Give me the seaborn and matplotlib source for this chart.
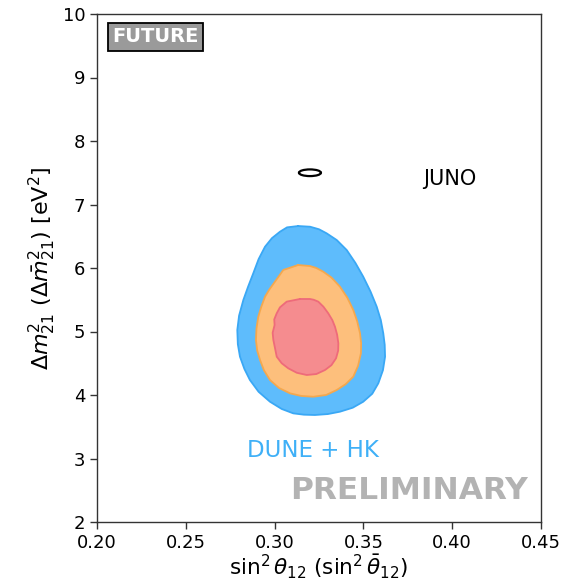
import numpy as np
import pandas as pd
import matplotlib
matplotlib.use("Agg")
import matplotlib.pyplot as plt
from matplotlib.patches import Ellipse
import seaborn as sns

# ---- data (sin^2 theta12, Delta m^2_21 [1e-5 eV^2]) ----
blue_x = [0.3133, 0.3070, 0.3030, 0.2985, 0.2946, 0.2910, 0.2880, 0.2850, 0.2824, 0.2800,
          0.2790, 0.2793, 0.2805, 0.2830, 0.2861, 0.2910, 0.2974, 0.3040, 0.3105, 0.3165,
          0.3227, 0.3300, 0.3368, 0.3440, 0.3499, 0.3550, 0.3584, 0.3610, 0.3622, 0.3620,
          0.3612, 0.3598, 0.3575, 0.3540, 0.3499, 0.3455, 0.3406, 0.3350, 0.3293, 0.3250, 0.3200]
blue_y = [6.661, 6.640, 6.571, 6.470, 6.335, 6.140, 5.917, 5.700, 5.496, 5.250,
          5.024, 4.800, 4.603, 4.410, 4.236, 4.050, 3.894, 3.780, 3.711, 3.690,
          3.685, 3.700, 3.737, 3.800, 3.894, 4.020, 4.184, 4.390, 4.603, 4.790,
          4.971, 5.180, 5.391, 5.630, 5.864, 6.080, 6.283, 6.440, 6.546, 6.610, 6.650]

orange_x = [0.3133, 0.3049, 0.3002, 0.2970, 0.2946, 0.2925, 0.2908, 0.2898, 0.2895, 0.2902,
            0.2918, 0.2940, 0.2974, 0.3025, 0.3087, 0.3150, 0.3218, 0.3290, 0.3350, 0.3400,
            0.3443, 0.3470, 0.3486, 0.3487, 0.3481, 0.3465, 0.3443, 0.3410, 0.3368, 0.3320,
            0.3274, 0.3235, 0.3199]
orange_y = [6.047, 5.969, 5.785, 5.660, 5.548, 5.390, 5.233, 5.050, 4.866, 4.700,
            4.551, 4.390, 4.236, 4.110, 4.026, 3.985, 3.973, 4.000, 4.079, 4.170,
            4.289, 4.460, 4.657, 4.820, 4.971, 5.160, 5.339, 5.530, 5.706, 5.850,
            5.942, 6.000, 6.031]

red_x = [0.3143, 0.3068, 0.3030, 0.3012, 0.2998, 0.3000, 0.2989, 0.2993, 0.3012, 0.3040,
         0.3077, 0.3125, 0.3181, 0.3235, 0.3284, 0.3320, 0.3346, 0.3358, 0.3359, 0.3352,
         0.3340, 0.3325, 0.3302, 0.3275, 0.3246, 0.3220, 0.3199]
red_y = [5.512, 5.470, 5.380, 5.287, 5.190, 5.102, 4.980, 4.866, 4.603, 4.500,
         4.420, 4.350, 4.315, 4.330, 4.394, 4.470, 4.578, 4.700, 4.814, 4.950,
         5.075, 5.180, 5.287, 5.390, 5.470, 5.500, 5.512]

juno_center = (0.3199, 7.50)
juno_width = 0.0124
juno_height = 0.105

x_ticks = [0.20, 0.25, 0.30, 0.35, 0.40, 0.45]
y_ticks = [2, 3, 4, 5, 6, 7, 8, 9, 10]

# ---- figure ----
sns.set_theme(style="ticks")
plt.rcParams['font.family'] = ['DejaVu Sans']
fig = plt.figure(figsize=(5.64, 5.84), dpi=100)
ax = fig.add_axes([97/564, 1 - 522/584, 444/564, 508/584])

regions = [
    (blue_x, blue_y, "#5ebcfc", "#3aa8f5"),
    (orange_x, orange_y, "#fdbf7c", "#f5a84e"),
    (red_x, red_y, "#f58c8f", "#ee6b7a"),
]
for xs, ys, fc, ec in regions:
    xc = list(xs) + [xs[0]]
    yc = list(ys) + [ys[0]]
    ax.fill(xc, yc, color=fc, lw=0, zorder=2)
    df = pd.DataFrame({"x": xc, "y": yc})
    sns.lineplot(data=df, x="x", y="y", sort=False, estimator=None,
                 color=ec, lw=1.3, ax=ax, zorder=3)

ax.add_patch(Ellipse(juno_center, juno_width, juno_height, fill=False,
                     edgecolor="black", lw=1.6, zorder=4))

ax.set_xlim(0.20, 0.45)
ax.set_ylim(2, 10)
ax.set_xticks(x_ticks)
ax.set_xticklabels([f"{t:.2f}" for t in x_ticks])
ax.set_yticks(y_ticks)
ax.set_yticklabels([str(t) for t in y_ticks])
ax.tick_params(labelsize=13, length=5, width=1, color="#333333", labelcolor="black")
for s in ax.spines.values():
    s.set_linewidth(1.0)
    s.set_color("#333333")

ax.set_xlabel(r"$\sin^2\theta_{12}$ $(\sin^2\bar{\theta}_{12})$", fontsize=15.5,
              labelpad=1, color="black")
ax.set_ylabel(r"$\Delta m^2_{21}$ $(\Delta \bar{m}^2_{21})$ [eV$^2$]", fontsize=16,
              labelpad=3, color="black")

ax.text(0.2327, 9.64, "FUTURE", fontsize=14, fontweight="bold", color="white",
        ha="center", va="center", zorder=5,
        bbox=dict(boxstyle="square,pad=0.22", fc="#9a9a9a", ec="black", lw=1.3))
ax.text(0.3836, 7.40, "JUNO", fontsize=15, color="black", ha="left", va="center")
ax.text(0.3216, 3.13, "DUNE + HK", fontsize=16.5, color="#3fb0f7", ha="center", va="center")
ax.text(0.4427, 2.49, "PRELIMINARY", fontsize=22.5, fontweight="bold", color="#b3b3b3",
        ha="right", va="center")

fig.savefig("out.png", dpi=100)
